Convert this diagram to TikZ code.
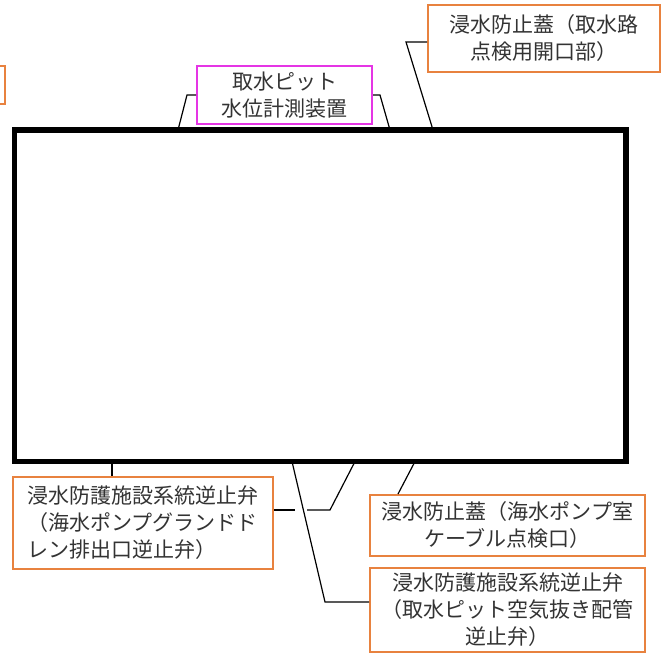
\documentclass[tikz,border=0pt]{standalone}
\usepackage{fontspec}
\newfontfamily\jpfont{Noto Sans CJK JP}
\usetikzlibrary{calc}
\usepackage{xcolor}
\definecolor{cover}{HTML}{E8823F}
\definecolor{gauge}{HTML}{E535E5}
\definecolor{ink}{HTML}{333333}

\begin{document}
\begin{tikzpicture}[
  x=1pt, y=-1pt,
  tag/.style={draw=cover, line width=2pt, align=center, inner sep=0pt, text=ink,
              font=\jpfont\fontsize{21}{27}\selectfont},
  lead/.style={black, line width=1.2pt}
]
  \useasboundingbox (0,0) rectangle (663,654);
  \clip (0,0) rectangle (663,654);

  % Pit outline
  \node[draw, line width=5.5pt, minimum width=611.5pt, minimum height=331.5pt,
        inner sep=0pt, outer sep=0pt] (pit) at (320.25,295.75) {};

  % Labels
  \node[tag, minimum width=110pt, minimum height=38pt] (offbox) at (-50,85) {};

  \node[tag, draw=gauge, minimum width=175pt, minimum height=58pt] (gaugebox) at (284.5,95) {
    取水ピット\\
    水位計測装置
  };

  \node[tag, minimum width=232pt, minimum height=67pt] (coverbox) at (544,38.5) {
    浸水防止蓋（取水路\\
    点検用開口部）
  };

  \node[tag, align=left, minimum width=260pt, minimum height=92pt] (drainbox) at (143,523) {
    浸水防護施設系統逆止弁\\
    （海水ポンプグランドド\\
    レン排出口逆止弁）
  };

  \node[tag, minimum width=275pt, minimum height=61pt] (cablebox) at (507.5,525.5) {
    浸水防止蓋（海水ポンプ室\\
    ケーブル点検口）
  };

  \node[tag, minimum width=275pt, minimum height=84pt] (ventbox) at (507.5,610) {
    浸水防護施設系統逆止弁\\
    （取水ピット空気抜き配管\\
    逆止弁）
  };

  % Leaders
  \draw[lead] (gaugebox.west) -- (187,95) -- (178,0 |- pit.north);
  \draw[lead] (gaugebox.east) -- (380,95) -- (390,0 |- pit.north);
  \draw[lead] (coverbox.west |- 0,42) -- (406,42) -- (433,0 |- pit.north);

  \draw[lead] (112,0 |- pit.south) -- (112,0 |- drainbox.north);
  \coordinate (gapL) at (295,510);
  \coordinate (gapR) at (307,510);
  \draw[lead] (drainbox.east |- 0,510) -- (gapL);
  \draw[lead] (gapR) -- (330,510) -- (355,0 |- pit.south);
  \draw[lead] (292,0 |- pit.south) -- (325,602) -- (ventbox.west |- 0,602);
  \draw[lead] (398,0 |- cablebox.north) -- (415,0 |- pit.south);
\end{tikzpicture}
\end{document}
